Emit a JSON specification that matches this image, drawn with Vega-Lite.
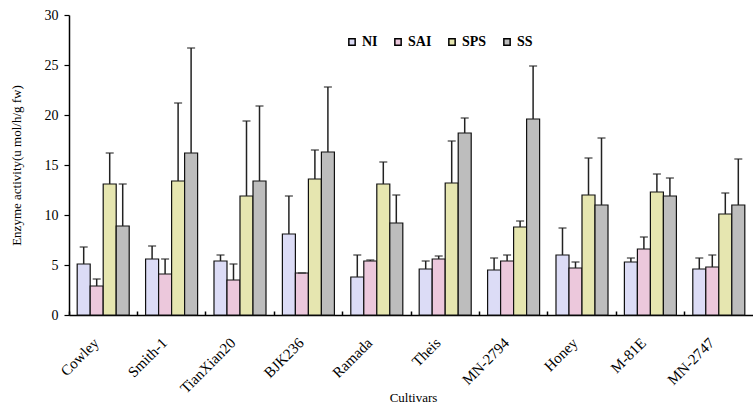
{
  "$schema": "https://vega.github.io/schema/vega-lite/v6.json",
  "width": 684,
  "height": 300,
  "autosize": "none",
  "padding": {"left": 69, "top": 15, "right": 0, "bottom": 92},
  "background": "white",
  "config": {
    "view": {"stroke": null},
    "font": "Liberation Serif",
    "axis": {"labelFont": "Liberation Serif", "titleFont": "Liberation Serif", "labelColor": "#000", "titleColor": "#000", "domainColor": "#000", "tickColor": "#000", "grid": false, "titleFontWeight": "normal"},
    "legend": {"labelFont": "Liberation Serif"}
  },
  "data": {
    "values": [
      {"cultivar": "Cowley", "treatment": "NI", "value": 5.1, "upper": 6.8},
      {"cultivar": "Cowley", "treatment": "SAI", "value": 2.9, "upper": 3.6},
      {"cultivar": "Cowley", "treatment": "SPS", "value": 13.1, "upper": 16.2},
      {"cultivar": "Cowley", "treatment": "SS", "value": 8.9, "upper": 13.1},
      {"cultivar": "Smith-1", "treatment": "NI", "value": 5.6, "upper": 6.9},
      {"cultivar": "Smith-1", "treatment": "SAI", "value": 4.1, "upper": 5.6},
      {"cultivar": "Smith-1", "treatment": "SPS", "value": 13.4, "upper": 21.2},
      {"cultivar": "Smith-1", "treatment": "SS", "value": 16.2, "upper": 26.7},
      {"cultivar": "TianXian20", "treatment": "NI", "value": 5.4, "upper": 6.0},
      {"cultivar": "TianXian20", "treatment": "SAI", "value": 3.5, "upper": 5.1},
      {"cultivar": "TianXian20", "treatment": "SPS", "value": 11.9, "upper": 19.4},
      {"cultivar": "TianXian20", "treatment": "SS", "value": 13.4, "upper": 20.9},
      {"cultivar": "BJK236", "treatment": "NI", "value": 8.1, "upper": 11.9},
      {"cultivar": "BJK236", "treatment": "SAI", "value": 4.2, "upper": 4.2},
      {"cultivar": "BJK236", "treatment": "SPS", "value": 13.6, "upper": 16.5},
      {"cultivar": "BJK236", "treatment": "SS", "value": 16.3, "upper": 22.8},
      {"cultivar": "Ramada", "treatment": "NI", "value": 3.8, "upper": 6.0},
      {"cultivar": "Ramada", "treatment": "SAI", "value": 5.4, "upper": 5.5},
      {"cultivar": "Ramada", "treatment": "SPS", "value": 13.1, "upper": 15.3},
      {"cultivar": "Ramada", "treatment": "SS", "value": 9.2, "upper": 12.0},
      {"cultivar": "Theis", "treatment": "NI", "value": 4.6, "upper": 5.4},
      {"cultivar": "Theis", "treatment": "SAI", "value": 5.6, "upper": 5.9},
      {"cultivar": "Theis", "treatment": "SPS", "value": 13.2, "upper": 17.4},
      {"cultivar": "Theis", "treatment": "SS", "value": 18.2, "upper": 19.7},
      {"cultivar": "MN-2794", "treatment": "NI", "value": 4.5, "upper": 5.7},
      {"cultivar": "MN-2794", "treatment": "SAI", "value": 5.4, "upper": 6.0},
      {"cultivar": "MN-2794", "treatment": "SPS", "value": 8.8, "upper": 9.4},
      {"cultivar": "MN-2794", "treatment": "SS", "value": 19.6, "upper": 24.9},
      {"cultivar": "Honey", "treatment": "NI", "value": 6.0, "upper": 8.7},
      {"cultivar": "Honey", "treatment": "SAI", "value": 4.7, "upper": 5.3},
      {"cultivar": "Honey", "treatment": "SPS", "value": 12.0, "upper": 15.7},
      {"cultivar": "Honey", "treatment": "SS", "value": 11.0, "upper": 17.7},
      {"cultivar": "M-81E", "treatment": "NI", "value": 5.3, "upper": 5.7},
      {"cultivar": "M-81E", "treatment": "SAI", "value": 6.6, "upper": 7.8},
      {"cultivar": "M-81E", "treatment": "SPS", "value": 12.3, "upper": 14.1},
      {"cultivar": "M-81E", "treatment": "SS", "value": 11.9, "upper": 13.7},
      {"cultivar": "MN-2747", "treatment": "NI", "value": 4.6, "upper": 5.7},
      {"cultivar": "MN-2747", "treatment": "SAI", "value": 4.8, "upper": 6.0},
      {"cultivar": "MN-2747", "treatment": "SPS", "value": 10.1, "upper": 12.2},
      {"cultivar": "MN-2747", "treatment": "SS", "value": 11.0, "upper": 15.6}
    ]
  },
  "encoding": {
    "x": {
      "field": "cultivar", "type": "nominal", "sort": null,
      "scale": {"paddingInner": 0, "paddingOuter": 0},
      "axis": {
        "title": "Cultivars", "labelAngle": -45, "labelFontSize": 15, "titleFontSize": 13,
        "bandPosition": 0, "tickSize": -4, "tickWidth": 1.5, "domainWidth": 1.5,
        "labelPadding": 24, "labelOffset": -12, "titleX": 344, "titleY": 86, "titleBaseline": "alphabetic"
      }
    },
    "xOffset": {
      "field": "treatment", "type": "nominal", "sort": ["NI", "SAI", "SPS", "SS"],
      "scale": {"paddingInner": 0, "paddingOuter": 0.63}
    }
  },
  "layer": [
    {
      "mark": {"type": "bar", "stroke": "#111", "strokeWidth": 1.2},
      "encoding": {
        "y": {
          "field": "value", "type": "quantitative",
          "scale": {"domain": [0, 30]},
          "axis": {
            "title": "Enzyme activity(u mol/h/g fw)", "values": [0, 5, 10, 15, 20, 25, 30],
            "labelFontSize": 14, "titleFontSize": 13, "tickSize": 5, "tickWidth": 1.2,
            "domainWidth": 1.5, "labelPadding": 6, "titleX": -46
          }
        },
        "fill": {
          "field": "treatment", "type": "nominal",
          "scale": {"domain": ["NI", "SAI", "SPS", "SS"], "range": ["#dcdcf6", "#ecc8dc", "#e6e6b0", "#bdbdbd"]},
          "legend": {
            "title": null, "orient": "none", "direction": "horizontal",
            "legendX": 276, "legendY": 20, "symbolType": "square", "symbolSize": 40,
            "symbolStrokeColor": "#000", "symbolStrokeWidth": 1.5,
            "labelFontSize": 14, "labelFontWeight": "bold", "columnPadding": 13, "labelOffset": 3
          }
        }
      }
    },
    {
      "mark": {"type": "rule", "color": "#222", "strokeWidth": 1.5},
      "encoding": {
        "y": {"field": "value", "type": "quantitative"},
        "y2": {"field": "upper"}
      }
    },
    {
      "mark": {"type": "tick", "orient": "horizontal", "color": "#222", "thickness": 1.5, "size": 8},
      "encoding": {
        "y": {"field": "upper", "type": "quantitative"}
      }
    }
  ]
}
